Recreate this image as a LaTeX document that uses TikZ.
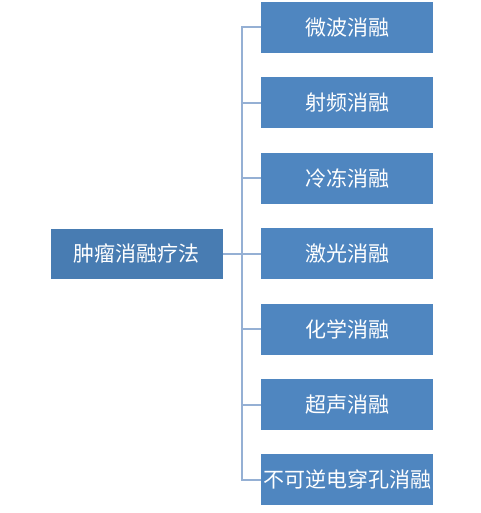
\documentclass[tikz,border=0pt]{standalone}
\usepackage{fontspec}
\newfontfamily\cjk{Noto Sans CJK SC}
\usetikzlibrary{positioning,calc}
\definecolor{boxblue}{RGB}{79,134,192}
\definecolor{rootblue}{RGB}{72,124,178}
\definecolor{linkblue}{RGB}{149,176,212}
\begin{document}
\begin{tikzpicture}[
  x=1pt, y=1pt,
  node distance=24pt and 38pt,
  box/.style={fill=boxblue, text=white, minimum width=172pt, minimum height=51pt, inner sep=0pt, font=\cjk\fontsize{21}{25}\selectfont},
  link/.style={draw=linkblue, line width=2pt}
]
\useasboundingbox (0,0) rectangle (480,-513);
\node[box] (m1) at (347,-27.5) {微波消融};
\node[box, below=of m1] (m2) {射频消融};
\node[box, below=of m2] (m3) {冷冻消融};
\node[box, below=of m3] (m4) {激光消融};
\node[box, below=of m4] (m5) {化学消融};
\node[box, below=of m5] (m6) {超声消融};
\node[box, below=of m6] (m7) {不可逆电穿孔消融};
\node[box, fill=rootblue, minimum height=50pt, left=of m4] (root) {肿瘤消融疗法};

\coordinate (bus) at ($(root.east)+(19,0)$);
\draw[link] (root.east) -- (bus);
\foreach \i in {1,...,7}
  \draw[link] (m\i.west) -| (bus);
\end{tikzpicture}
\end{document}
